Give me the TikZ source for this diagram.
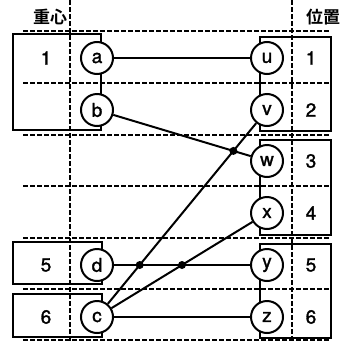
\documentclass[tikz,border=0pt]{standalone}
\usepackage{fontspec}
\setmainfont{TeX Gyre Heros}[FakeBold=1.5,AutoFakeBold=0]
\newfontfamily\cjk{Noto Sans CJK JP Bold}
\usetikzlibrary{intersections}

\begin{document}
\begin{tikzpicture}[x=1pt,y=-1pt,
  guia/.style={line width=2pt,dash pattern=on 4.5pt off 2.5pt},
  caja/.style={draw,line width=2.2pt},
  elem/.style={circle,draw,line width=2pt,fill=white,minimum size=32pt,inner sep=0pt,font=\fontsize{19}{19}\selectfont},
  num/.style={font=\fontsize{19}{19}\selectfont},
  titulo/.style={font=\cjk\fontsize{17}{17}\selectfont},
  enlace/.style={line width=2pt},
  punto/.style={circle,fill=black,minimum size=8pt,inner sep=0pt}
  ]
  \useasboundingbox (0,0) rectangle (347,343);
  % guias
  \foreach \y in {31,83,135,186,238,289,340}
    \draw[guia] (23,\y) -- (330,\y);
  \draw[guia] (70,0) -- (70,343);
  \draw[guia] (292,0) -- (292,343);
  % cajas
  \draw[caja] (13,34) rectangle (101,130);
  \draw[caja] (13,242) rectangle (102,284);
  \draw[caja] (13,294) rectangle (102,337);
  \draw[caja] (260,37) rectangle (331,131);
  \draw[caja] (260,140) rectangle (331,235);
  \draw[caja] (260,244) rectangle (331,338);
  % titulos
  \node[titulo] (tl) at (50,17) {重心};
  \node[titulo] (tr) at (323,17) {位置};
  % numeros
  \node[num] (l1) at (46,58) {1};
  \node[num] (l5) at (46,265) {5};
  \node[num] (l6) at (46,317) {6};
  \foreach \n/\y in {1/58,2/110,3/161,4/213,5/265,6/317}
    \node[num] (r\n) at (311,\y) {\n};
  % elementos
  \node[elem] (a) at (97,58) {a};
  \node[elem] (b) at (97,110) {b};
  \node[elem] (d) at (97,265) {d};
  \node[elem] (c) at (97,317) {c};
  \node[elem] (u) at (267,58) {u};
  \node[elem] (v) at (267,110) {v};
  \node[elem] (w) at (267,161) {w};
  \node[elem] (x) at (267,213) {x};
  \node[elem] (y) at (267,265) {y};
  \node[elem] (z) at (267,317) {z};
  % enlaces
  \draw[enlace] (a) -- (u);
  \draw[enlace,name path=bw] (b) -- (w);
  \draw[enlace,name path=cv] (c) -- (v);
  \draw[enlace,name path=cx] (c) -- (x);
  \draw[enlace] (c) -- (z);
  \draw[enlace,name path=dy] (d) -- (y);
  % cruces
  \path[name intersections={of=bw and cv,by=p1}];
  \path[name intersections={of=dy and cv,by=p2}];
  \path[name intersections={of=dy and cx,by=p3}];
  \node[punto] (q1) at (p1) {};
  \node[punto] (q2) at (p2) {};
  \node[punto] (q3) at (p3) {};
\end{tikzpicture}
\end{document}
